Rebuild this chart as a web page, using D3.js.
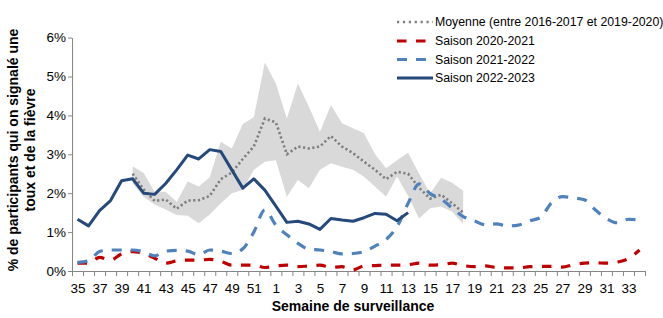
<!DOCTYPE html>
<html>
<head>
<meta charset="utf-8">
<script src="https://cdn.jsdelivr.net/npm/d3@7"></script>
<style>
  body { margin: 0; background: #fff; }
  svg { display: block; font-family: "Liberation Sans", Arial, sans-serif; }
</style>
</head>
<body>
<div id="chart"></div>
<script>
// semaines de surveillance (35 -> 52, puis 1 -> 34)
var weeks = [35,36,37,38,39,40,41,42,43,44,45,46,47,48,49,50,51,52,
             1,2,3,4,5,6,7,8,9,10,11,12,13,14,15,16,17,18,19,20,21,22,23,24,25,26,27,28,29,30,31,32,33,34];

var yTicks = [0, 1, 2, 3, 4, 5, 6];

// moyenne 2016-2017 a 2019-2020 (semaine 40 -> 18)
var moyStart = 5;
var moyenne = [2.5,2.1,1.8,1.84,1.6,1.81,1.82,1.93,2.36,2.53,2.88,3.2,3.92,3.82,3.0,3.2,3.15,3.2,3.47,3.2,3.03,2.81,2.6,2.36,2.55,2.5,2.14,1.86,1.96,1.74,1.5];
var bandMax = [2.69,2.52,2.04,2.04,1.78,2.3,2.17,2.41,3.32,3.15,3.78,3.95,5.36,4.82,3.92,4.82,4.22,3.58,4.27,3.8,3.67,3.54,3.0,2.64,2.85,3.04,2.5,2.0,2.4,2.27,2.06];
var bandMin = [2.25,1.91,1.71,1.58,1.44,1.42,1.23,1.45,1.74,2.0,2.08,2.6,2.81,2.85,1.91,2.34,2.13,2.6,2.77,2.68,2.6,2.42,2.17,1.91,2.43,1.93,1.35,1.61,1.66,1.52,1.21];

var s2020 = [0.2,0.2,0.35,0.28,0.44,0.5,0.45,0.33,0.2,0.26,0.28,0.28,0.3,0.25,0.15,0.15,0.15,0.09,0.13,0.15,0.11,0.13,0.15,0.09,0.11,0.03,0.13,0.14,0.15,0.15,0.16,0.2,0.15,0.16,0.2,0.14,0.11,0.13,0.09,0.08,0.08,0.11,0.12,0.12,0.1,0.16,0.2,0.21,0.2,0.23,0.32,0.54];
var s2021 = [0.22,0.26,0.5,0.54,0.54,0.54,0.49,0.39,0.51,0.53,0.51,0.42,0.54,0.51,0.45,0.57,1.0,1.57,1.18,0.93,0.71,0.56,0.54,0.5,0.44,0.45,0.5,0.64,0.81,1.14,1.74,2.24,1.99,1.85,1.62,1.4,1.29,1.19,1.21,1.16,1.18,1.29,1.37,1.75,1.91,1.88,1.83,1.57,1.35,1.24,1.33,1.31];
var s2022 = [1.33,1.16,1.55,1.81,2.32,2.37,2.0,1.97,2.25,2.6,2.98,2.88,3.12,3.07,2.6,2.13,2.37,2.08,1.67,1.25,1.28,1.21,1.07,1.35,1.31,1.28,1.37,1.48,1.46,1.29,1.5];

var legendLabels = ["Moyenne (entre 2016-2017 et 2019-2020)", "Saison 2020-2021", "Saison 2021-2022", "Saison 2022-2023"];

var width = 663, height = 318;

var svg = d3.select("#chart").append("svg")
    .attr("width", width)
    .attr("height", height);

// scales : x en index de semaine, ticks entre les categories
var x = d3.scaleLinear().domain([0, weeks.length]).range([72, 645]);
var y = d3.scaleLinear().domain([0, 6]).range([271, 37.6]);
var cx = function(i) { return x(i + 0.5); };

// bande min-max
var band = moyenne.map(function(d, k) { return {i: k + moyStart, lo: bandMin[k], hi: bandMax[k]}; });
svg.append("path")
    .datum(band)
    .attr("fill", "#d9d9d9")
    .attr("d", d3.area()
        .x(function(d) { return cx(d.i); })
        .y0(function(d) { return y(d.lo); })
        .y1(function(d) { return y(d.hi); }));

// axes
var gY = svg.append("g")
    .attr("transform", "translate(72,0)")
    .call(d3.axisLeft(y).tickValues(yTicks).tickFormat(function(d) { return d + "%"; })
        .tickSize(4).tickSizeOuter(0).tickPadding(2));

var gX = svg.append("g")
    .attr("transform", "translate(0,271)")
    .call(d3.axisBottom(x).tickValues(d3.range(weeks.length + 1)).tickFormat("")
        .tickSize(5).tickSizeOuter(0));

var labelIdx = d3.range(0, weeks.length, 2);
var gXL = svg.append("g")
    .attr("transform", "translate(0,271)")
    .call(d3.axisBottom(x).tickValues(labelIdx.map(function(i) { return i + 0.5; }))
        .tickFormat(function(d) { return weeks[Math.floor(d)]; })
        .tickSize(0).tickPadding(12));
gXL.select(".domain").remove();

[gY, gX].forEach(function(g) {
    g.select(".domain").attr("stroke", "#868686");
    g.selectAll(".tick line").attr("stroke", "#868686");
});
[gY, gXL].forEach(function(g) {
    g.selectAll(".tick text")
        .attr("font-size", 13.5)
        .attr("font-family", "Liberation Sans, Arial, sans-serif")
        .attr("fill", "#000");
});

// lignes
function seriesLine(vals, start, curve) {
    var pts = vals.map(function(v, k) { return [cx(k + start), y(v)]; });
    return d3.line().curve(curve)(pts);
}

svg.append("path")
    .attr("d", seriesLine(moyenne, moyStart, d3.curveLinear))
    .attr("fill", "none")
    .attr("stroke", "#7f7f7f")
    .attr("stroke-width", 2.6)
    .attr("stroke-dasharray", "2.2 2.5");

svg.append("path")
    .attr("d", seriesLine(s2020, 0, d3.curveMonotoneX))
    .attr("fill", "none")
    .attr("stroke", "#c00000")
    .attr("stroke-width", 3.2)
    .attr("stroke-dasharray", "9.5 9.5");

svg.append("path")
    .attr("d", seriesLine(s2021, 0, d3.curveMonotoneX))
    .attr("fill", "none")
    .attr("stroke", "#4f81bd")
    .attr("stroke-width", 3.2)
    .attr("stroke-dasharray", "10 9");

svg.append("path")
    .attr("d", seriesLine(s2022, 0, d3.curveLinear))
    .attr("fill", "none")
    .attr("stroke", "#24497a")
    .attr("stroke-width", 3)
    .attr("stroke-linejoin", "round");

// legende
var legendStyles = [
    {stroke: "#7f7f7f", w: 2.6, dash: "2.2 3.7"},
    {stroke: "#c00000", w: 3.2, dash: "9.5 9.5"},
    {stroke: "#4f81bd", w: 3.2, dash: "10 9"},
    {stroke: "#24497a", w: 3, dash: null}
];
var legendY = [22, 41, 59.5, 78];
var leg = svg.append("g");
legendLabels.forEach(function(t, k) {
    leg.append("line")
        .attr("x1", 397).attr("x2", 433)
        .attr("y1", legendY[k]).attr("y2", legendY[k])
        .attr("stroke", legendStyles[k].stroke)
        .attr("stroke-width", legendStyles[k].w)
        .attr("stroke-dasharray", legendStyles[k].dash);
    leg.append("text")
        .attr("x", 435).attr("y", legendY[k] + 4.3)
        .attr("font-size", 12.3)
        .attr("fill", "#000")
        .text(t);
});

// titres
svg.append("text")
    .attr("x", 353).attr("y", 311)
    .attr("text-anchor", "middle")
    .attr("font-size", 14).attr("font-weight", "bold")
    .text("Semaine de surveillance");

var yt = svg.append("text")
    .attr("transform", "translate(18,150) rotate(-90)")
    .attr("text-anchor", "middle")
    .attr("font-size", 14).attr("font-weight", "bold");
yt.append("tspan").attr("x", 0).attr("y", 0).text("% de participants qui on signalé une");
yt.append("tspan").attr("x", 0).attr("y", 17).text("toux et de la fièvre");
</script>
</body>
</html>
